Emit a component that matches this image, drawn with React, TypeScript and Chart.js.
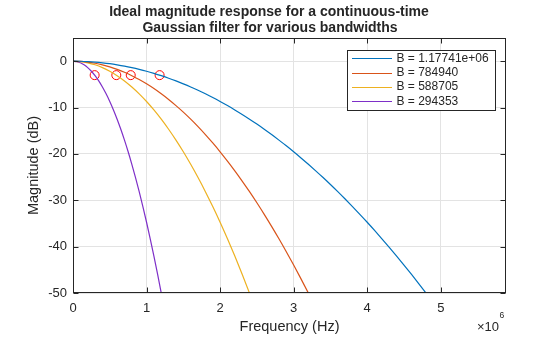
import React, { useEffect, useRef } from "react";
import { Chart, registerables } from "chart.js";

Chart.register(...registerables);

// Frequency grids (units of 1e6 Hz)
const freqCoarse = [0, 0.1, 0.2, 0.3, 0.4, 0.5, 0.6, 0.7, 0.8, 0.9, 1.0, 1.1, 1.2, 1.3, 1.4, 1.5, 1.6, 1.7, 1.8, 1.9, 2.0, 2.1, 2.2, 2.3, 2.4, 2.5, 2.6, 2.7, 2.8, 2.9, 3.0, 3.1, 3.2, 3.3, 3.4, 3.5, 3.6, 3.7, 3.8, 3.9, 4.0, 4.1, 4.2, 4.3, 4.4, 4.5, 4.6, 4.7, 4.8, 4.9];
const freqFine = [0, 0.05, 0.1, 0.15, 0.2, 0.25, 0.3, 0.35, 0.4, 0.45, 0.5, 0.55, 0.6, 0.65, 0.7, 0.75, 0.8, 0.85, 0.9, 0.95, 1.0, 1.05, 1.1, 1.15, 1.2, 1.25];

// Magnitude (dB) series
const magB1 = [0, -0.02, -0.09, -0.2, -0.35, -0.54, -0.78, -1.06, -1.39, -1.76, -2.17, -2.63, -3.13, -3.67, -4.26, -4.89, -5.56, -6.28, -7.04, -7.84, -8.69, -9.58, -10.51, -11.49, -12.51, -13.57, -14.68, -15.83, -17.03, -18.26, -19.54, -20.87, -22.24, -23.65, -25.1, -26.6, -28.14, -29.73, -31.36, -33.03, -34.74, -36.5, -38.31, -40.15, -42.04, -43.97, -45.95, -47.97, -50.03, -52.14];
const magB2 = [0, -0.05, -0.2, -0.44, -0.78, -1.22, -1.76, -2.39, -3.13, -3.96, -4.89, -5.91, -7.04, -8.26, -9.58, -10.99, -12.51, -14.12, -15.83, -17.64, -19.54, -21.55, -23.65, -25.85, -28.14, -30.54, -33.03, -35.62, -38.3, -41.09, -43.97, -46.95, -50.03, -53.21];
const magB3 = [0, -0.09, -0.35, -0.78, -1.39, -2.17, -3.13, -4.26, -5.56, -7.04, -8.69, -10.51, -12.51, -14.68, -17.02, -19.54, -22.24, -25.1, -28.14, -31.36, -34.74, -38.31, -42.04, -45.95, -50.03, -54.29];
const magB4 = [0, -0.09, -0.35, -0.78, -1.39, -2.17, -3.13, -4.26, -5.56, -7.04, -8.69, -10.51, -12.51, -14.68, -17.03, -19.54, -22.24, -25.1, -28.14, -31.36, -34.74, -38.31, -42.04, -45.95, -50.03, -54.29];

const seriesLabels = ["B = 1.17741e+06", "B = 784940", "B = 588705", "B = 294353"];
const seriesColors = ["#0072BD", "#D95319", "#EDB120", "#7E2FC8"];

// -3 dB markers
const markerFreq = [1.17741, 0.78494, 0.588705, 0.294353];
const markerMag = [-3.01, -3.01, -3.01, -3.01];

const xTicks = [0, 1, 2, 3, 4, 5];
const yTicks = [-50, -40, -30, -20, -10, 0];
const xMax = 5.88705;

const titleLines = ["Ideal magnitude response for a continuous-time", "Gaussian filter for various bandwidths"];
const xLabel = "Frequency (Hz)";
const yLabel = "Magnitude (dB)";

const INK = "#262626";
const FONT = "'Liberation Sans', Arial, Helvetica, sans-serif";

const decorPlugin = {
  id: "decor",
  afterDraw(chart: any) {
    const ctx = chart.ctx;
    const a = chart.chartArea;
    const xs = chart.scales.x;
    const ys = chart.scales.y;
    ctx.save();
    // box
    ctx.strokeStyle = INK;
    ctx.lineWidth = 1;
    const L = Math.round(a.left) + 0.5, R = Math.round(a.right) - 0.5;
    const T = Math.round(a.top) + 0.5, B = Math.round(a.bottom) - 0.5;
    ctx.strokeRect(L, T, R - L, B - T);
    // inner ticks
    const tl = 5;
    ctx.beginPath();
    xTicks.forEach((v) => {
      const px = Math.round(xs.getPixelForValue(v)) + 0.5;
      ctx.moveTo(px, B); ctx.lineTo(px, B - tl);
      ctx.moveTo(px, T); ctx.lineTo(px, T + tl);
    });
    yTicks.forEach((v) => {
      const py = Math.round(ys.getPixelForValue(v)) + 0.5;
      ctx.moveTo(L, py); ctx.lineTo(L + tl, py);
      ctx.moveTo(R, py); ctx.lineTo(R - tl, py);
    });
    ctx.stroke();

    // title
    ctx.fillStyle = INK;
    ctx.font = `bold 14px ${FONT}`;
    ctx.textAlign = "center";
    ctx.textBaseline = "alphabetic";
    ctx.fillText(titleLines[0], 269, 15.5);
    ctx.fillText(titleLines[1], 270, 32);

    // axis labels
    ctx.font = `14.5px ${FONT}`;
    ctx.fillText(xLabel, (a.left + a.right) / 2, 331);
    ctx.save();
    ctx.translate(38, (a.top + a.bottom) / 2);
    ctx.rotate(-Math.PI / 2);
    ctx.fillText(yLabel, 0, 0);
    ctx.restore();

    // exponent label
    ctx.textAlign = "left";
    ctx.font = `13px ${FONT}`;
    ctx.fillText("\u00d710", 477, 331);
    ctx.font = `8.5px ${FONT}`;
    ctx.fillText("6", 499.5, 317.5);

    // legend
    const bx = 347.5, by = 50.5, bw = 148, bh = 60;
    ctx.fillStyle = "#ffffff";
    ctx.fillRect(bx, by, bw, bh);
    ctx.strokeStyle = INK;
    ctx.lineWidth = 1;
    ctx.strokeRect(bx, by, bw, bh);
    ctx.font = `12px ${FONT}`;
    ctx.textBaseline = "middle";
    seriesLabels.forEach((lab, i) => {
      const yy = 58.3 + i * 14.35;
      ctx.strokeStyle = seriesColors[i];
      ctx.lineWidth = 1.2;
      ctx.beginPath();
      ctx.moveTo(352, Math.round(yy) + 0.5);
      ctx.lineTo(392, Math.round(yy) + 0.5);
      ctx.stroke();
      ctx.fillStyle = INK;
      ctx.fillText(lab, 396.5, yy);
    });
    ctx.restore();
  },
};

export default function App() {
  const ref = useRef<HTMLCanvasElement | null>(null);
  useEffect(() => {
    if (!ref.current) return;
    const mk = (xs: number[], ys: number[]) => xs.slice(0, ys.length).map((x, i) => ({ x, y: ys[i] }));
    const lineDs = (data: any[], i: number) => ({
      type: "line" as const,
      label: seriesLabels[i],
      data,
      borderColor: seriesColors[i],
      borderWidth: 1.2,
      pointRadius: 0,
      fill: false,
      cubicInterpolationMode: "monotone" as const,
    });
    const chart = new Chart(ref.current, {
      type: "line",
      data: {
        datasets: [
          lineDs(mk(freqCoarse, magB1), 0),
          lineDs(mk(freqCoarse, magB2), 1),
          lineDs(mk(freqCoarse, magB3), 2),
          lineDs(mk(freqFine, magB4), 3),
          {
            type: "scatter" as const,
            label: "markers",
            data: markerFreq.map((x, i) => ({ x, y: markerMag[i] })),
            borderColor: "#FF0000",
            backgroundColor: "rgba(0,0,0,0)",
            pointRadius: 4.5,
            pointBorderWidth: 1,
            showLine: false,
          } as any,
        ],
      },
      options: {
        animation: false,
        responsive: false,
        maintainAspectRatio: false,
        layout: { padding: { left: 8, right: 54, top: 38, bottom: 0 } },
        plugins: { legend: { display: false }, title: { display: false }, tooltip: { enabled: false } },
        scales: {
          x: {
            type: "linear",
            min: 0,
            max: xMax,
            afterBuildTicks: (s: any) => { s.ticks = xTicks.map((v) => ({ value: v })); },
            afterFit: (s: any) => { s.height = 44; },
            grid: { color: "#e3e3e3", drawTicks: false, lineWidth: 1 },
            border: { display: false },
            ticks: { color: INK, font: { size: 13, family: FONT }, padding: 8, maxRotation: 0 },
          },
          y: {
            type: "linear",
            min: -50,
            max: 5,
            afterBuildTicks: (s: any) => { s.ticks = yTicks.map((v) => ({ value: v })); },
            afterFit: (s: any) => { s.width = 65; },
            grid: { color: "#e3e3e3", drawTicks: false, lineWidth: 1 },
            border: { display: false },
            ticks: { color: INK, font: { size: 13, family: FONT }, padding: 6 },
          },
        },
      },
      plugins: [decorPlugin],
    });
    return () => chart.destroy();
  }, []);
  return (
    <div style={{ position: "fixed", left: 0, top: 0, width: 560, height: 337, background: "#fff" }}>
      <canvas ref={ref} width={560} height={337} style={{ width: 560, height: 337, display: "block" }} />
    </div>
  );
}
